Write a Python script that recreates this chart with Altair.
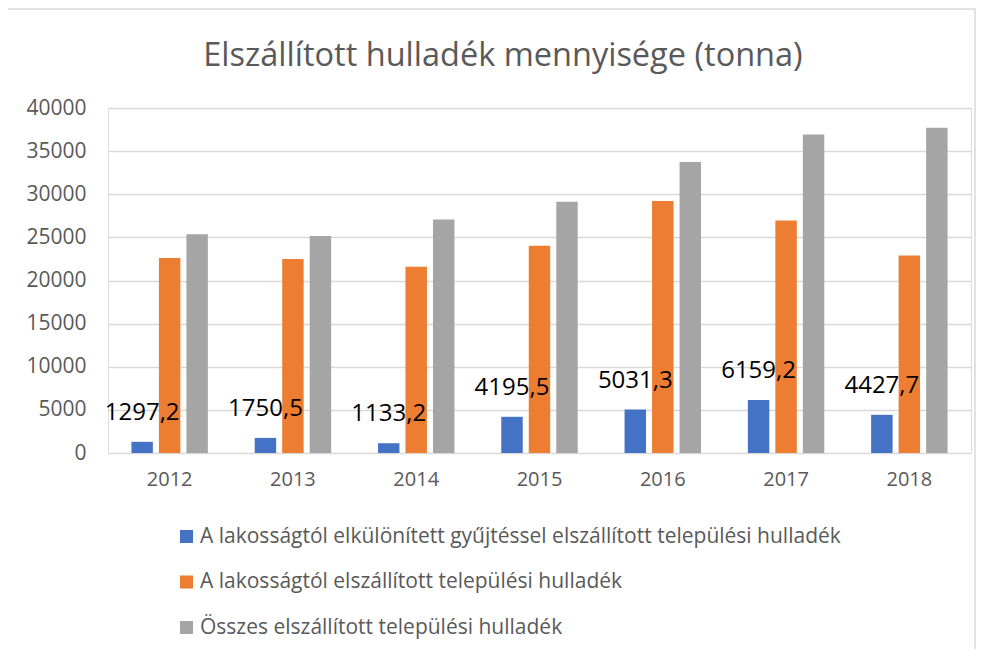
import altair as alt
import pandas as pd

years = ["2012", "2013", "2014", "2015", "2016", "2017", "2018"]
series = [
    "A lakosságtól elkülönített gyűjtéssel elszállított települési hulladék",
    "A lakosságtól elszállított települési hulladék",
    "Összes elszállított települési hulladék",
]
separate = [1297.2, 1750.5, 1133.2, 4195.5, 5031.3, 6159.2, 4427.7]
household = [22600, 22500, 21580, 24030, 29230, 26960, 22890]
total = [25350, 25150, 27070, 29120, 33730, 36930, 37700]
colors = ["#4472C4", "#ED7D31", "#A5A5A5"]
title_text = "Elszállított hulladék mennyisége (tonna)"

rows = []
for i, y in enumerate(years):
    for s, vals in zip(series, [separate, household, total]):
        rows.append({"year": y, "series": s, "value": vals[i]})
df = pd.DataFrame(rows)
df["label"] = df["value"].map(lambda v: f"{v:.1f}".replace(".", ","))

FONT = "Open Sans"
GREY = "#595959"

x_enc = alt.X("year:N", sort=years, title=None,
              scale=alt.Scale(paddingInner=0.38, paddingOuter=0.19),
              axis=alt.Axis(labelAngle=0, domain=False, ticks=False,
                            labelPadding=16, labelFontSize=20, labelColor=GREY,
                            labelFont=FONT))
xo_enc = alt.XOffset("series:N", sort=series,
                     scale=alt.Scale(domain=series, paddingInner=0.22, paddingOuter=0))
y_enc = alt.Y("value:Q", title=None,
              scale=alt.Scale(domain=[0, 40000], nice=False),
              axis=alt.Axis(values=list(range(0, 40001, 5000)), format="d",
                            domain=False, ticks=False, labelPadding=22,
                            labelFontSize=21, labelColor=GREY, labelFont=FONT,
                            gridColor="#D9D9D9", gridWidth=1.3))

bars = alt.Chart(df).mark_bar().encode(
    x=x_enc,
    xOffset=xo_enc,
    y=y_enc,
    color=alt.Color("series:N", sort=series,
                    scale=alt.Scale(domain=series, range=colors),
                    legend=alt.Legend(title=None, orient="none", legendX=68, legendY=418,
                                      direction="vertical", symbolType="square",
                                      symbolSize=169, symbolStrokeWidth=0,
                                      labelFontSize=21, labelColor=GREY, labelFont=FONT,
                                      rowPadding=23.5, labelOffset=3, labelLimit=900)),
)

labels = alt.Chart(df[df["series"] == series[0]]).mark_text(
    baseline="bottom", dy=-17, fontSize=24, font=FONT, color="black"
).encode(
    x=alt.X("year:N", sort=years),
    xOffset=alt.XOffset("series:N", sort=series),
    y=alt.Y("value:Q"),
    text="label:N",
)

single = pd.DataFrame({"title": [title_text]})

frame = alt.Chart(single).mark_rect(
    fill="transparent", stroke="#D9D9D9", strokeWidth=1.5
).encode(
    x=alt.value(-101), x2=alt.value(867), y=alt.value(-99), y2=alt.value(560)
)

title = alt.Chart(single).mark_text(
    fontSize=32.5, font=FONT, color=GREY, baseline="middle", align="center"
).encode(
    x=alt.value(395), y=alt.value(-52), text="title:N"
)

chart = alt.layer(frame, title, bars, labels).properties(
    width=863, height=345,
    autosize=alt.AutoSizeParams(type="none"),
    padding={"left": 100, "top": 100, "right": 5, "bottom": 196},
).configure_view(stroke=None).configure(background="white")

chart.save("out.html", embed_options={"renderer": "svg", "actions": False})
